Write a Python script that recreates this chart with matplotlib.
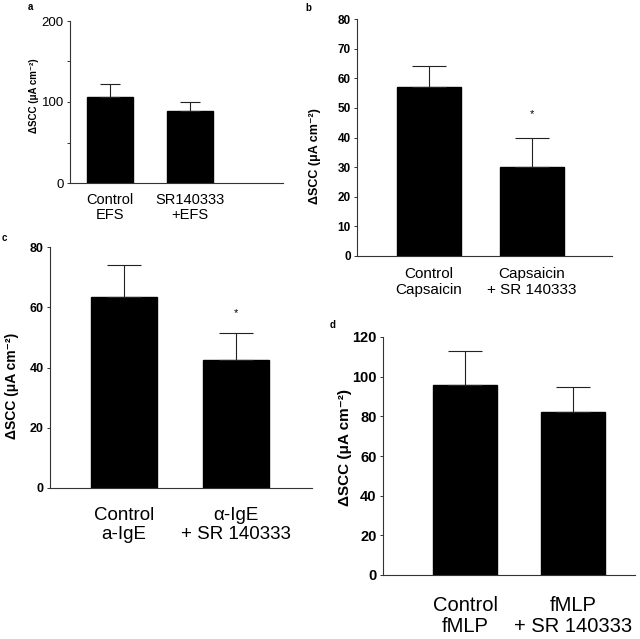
import numpy as np
import matplotlib
matplotlib.use("Agg")
import matplotlib.pyplot as plt

plt.rcParams['font.family'] = ['Liberation Sans', 'DejaVu Sans']

# panel data
a_labels = ["Control\nEFS", "SR140333\n+EFS"]
a_vals = [106, 89]
a_err = [16, 11]

b_labels = ["Control\nCapsaicin", "Capsaicin\n+ SR 140333"]
b_vals = [57, 30]
b_err = [7, 10]

c_labels = ["Control\na-IgE", "\u03b1-IgE\n+ SR 140333"]
c_vals = [63.5, 42.5]
c_err = [10.5, 9]

d_labels = ["Control\nfMLP", "fMLP\n+ SR 140333"]
d_vals = [96, 82]
d_err = [17, 13]

ylab = "\u0394SCC (\u03bcA cm\u207b\u00b2)"

fig = plt.figure(figsize=(6.4, 6.39), dpi=100)

def px(x0, y0, x1, y1):
    # pixel box -> figure fraction rect
    W, H = 640., 639.
    return [x0 / W, 1 - y1 / H, (x1 - x0) / W, (y1 - y0) / H]

def panel(rect, labels, vals, err, xlim, width, ymax, major, minor,
          tfs, xfs, bold, cap, pad):
    ax = fig.add_axes(rect)
    x = np.arange(len(vals))
    ax.bar(x, vals, width=width, color='black', edgecolor='black')
    ax.errorbar(x, vals, yerr=[np.zeros(len(err)), err], fmt='none',
                ecolor='#222222', elinewidth=0.8, capsize=cap, capthick=0.8)
    ax.set_xlim(*xlim)
    ax.set_ylim(0, ymax)
    ax.set_yticks(np.arange(0, ymax + 0.1, major))
    if minor:
        ax.set_yticks(np.arange(0, ymax + 0.1, minor), minor=True)
    for s in ['top', 'right']:
        ax.spines[s].set_visible(False)
    for s in ['left', 'bottom']:
        ax.spines[s].set_linewidth(0.8)
        ax.spines[s].set_color('#333333')
    ax.set_xticks(x)
    ax.set_xticklabels(labels, fontsize=xfs, linespacing=1.15)
    ax.tick_params(axis='x', length=0, pad=pad)
    ax.tick_params(axis='y', which='both', length=2.5, width=0.7,
                   labelsize=tfs, pad=2, color='#333333')
    if bold:
        for t in ax.get_yticklabels():
            t.set_fontweight('bold')
    return ax

ax_a = panel(px(70, 21, 283, 183), a_labels, a_vals, a_err, (-0.5, 2.16),
             0.575, 200, 100, 50, 9.5, 10.5, False, 7, 7)
ax_b = panel(px(357, 19, 612, 256), b_labels, b_vals, b_err, (-0.70, 1.776),
             0.62, 80, 10, None, 8.5, 11, True, 12, 8)
ax_c = panel(px(50, 247, 312, 488), c_labels, c_vals, c_err, (-0.66, 1.68),
             0.59, 80, 20, None, 9, 13.5, True, 12, 14)
ax_d = panel(px(383, 337, 635, 575), d_labels, d_vals, d_err, (-0.76, 1.57),
             0.593, 120, 20, None, 10.5, 14.5, True, 12, 15)

ax_b.text(1, 48, "*", ha='center', va='center', fontsize=8)
ax_c.text(1, 58, "*", ha='center', va='center', fontsize=8)

# y labels
fig.text(34 / 640, 1 - 96 / 639, ylab, rotation=90, ha='center', va='center',
         fontsize=7, fontweight='bold')
fig.text(315 / 640, 1 - 156 / 639, ylab, rotation=90, ha='center', va='center',
         fontsize=9, fontweight='bold')
fig.text(12 / 640, 1 - 386 / 639, ylab, rotation=90, ha='center', va='center',
         fontsize=10, fontweight='bold')
fig.text(345 / 640, 1 - 448 / 639, ylab, rotation=90, ha='center', va='center',
         fontsize=11, fontweight='bold')

# panel letters
for lab, xx, yy in [("a", 30, 7), ("b", 308, 8), ("c", 4, 238), ("d", 333, 325)]:
    fig.text(xx / 640, 1 - yy / 639, lab, ha='center', va='center',
             fontsize=7, fontweight='bold')

fig.savefig("out.png", dpi=100)
